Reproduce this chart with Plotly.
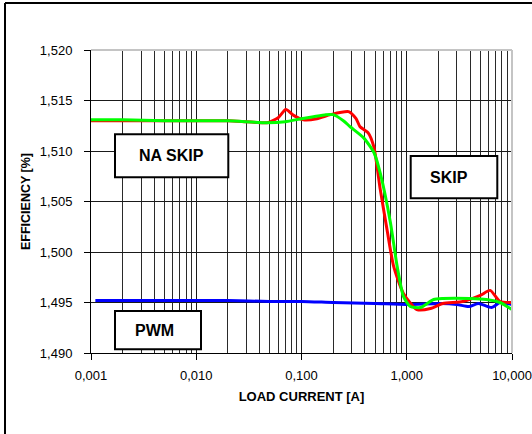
import plotly.graph_objects as go

# ---- data ----
red_x = [0.001, 0.002, 0.005, 0.01, 0.02, 0.03, 0.047, 0.06, 0.071, 0.085, 0.104, 0.14, 0.188, 0.28, 0.33,
         0.36, 0.43, 0.487, 0.56, 0.65, 0.75, 0.93, 1.25, 1.68, 2.2, 3.4, 5.0, 6.2, 7.7, 10]
red_y = [1.5130, 1.5130, 1.5130, 1.5130, 1.5130, 1.5129, 1.5128, 1.5133, 1.5141, 1.5135, 1.5131, 1.5132,
         1.5136, 1.5139, 1.5132, 1.5124, 1.5118, 1.5104, 1.5062, 1.5022, 1.4986, 1.4959, 1.4943, 1.4944,
         1.4949, 1.4951, 1.4957, 1.4962, 1.4951, 1.4950]

green_x = [0.001, 0.002, 0.005, 0.01, 0.02, 0.047, 0.07, 0.1, 0.13, 0.17, 0.2, 0.25, 0.29, 0.39, 0.49,
           0.56, 0.70, 0.81, 0.93, 1.08, 1.35, 1.8, 2.2, 4.0, 5.7, 7.7, 10]
green_y = [1.5131, 1.5131, 1.5130, 1.5130, 1.5130, 1.5128, 1.5129, 1.5132, 1.5134, 1.5136, 1.5136, 1.5130,
           1.5124, 1.5113, 1.5098, 1.5078, 1.5029, 1.4986, 1.4956, 1.4946, 1.4945, 1.4953, 1.4954, 1.4954,
           1.4953, 1.4950, 1.4943]

blue_x = [0.0011, 0.002, 0.005, 0.01, 0.02, 0.05, 0.1, 0.2, 0.5, 1.0, 2.1, 3.0, 3.9, 4.8, 6.4, 7.7, 10]
blue_y = [1.4952, 1.4952, 1.4952, 1.4952, 1.4952, 1.4951, 1.4951, 1.4950, 1.4949, 1.4948, 1.4949, 1.4948,
          1.4946, 1.4949, 1.4945, 1.4950, 1.4948]

x_tickvals = [0.001, 0.01, 0.1, 1, 10]
x_ticktext = ["0,001", "0,010", "0,100", "1,000", "10,000"]
x_minorvals = [m * 10 ** e for e in range(-3, 1) for m in range(2, 10)]
y_tickvals = [1.490, 1.495, 1.500, 1.505, 1.510, 1.515, 1.520]
y_ticktext = ["1,490", "1,495", "1,500", "1,505", "1,510", "1,515", "1,520"]

labels = ["NA SKIP", "SKIP", "PWM"]

FONT = "Liberation Sans, Arial, sans-serif"

# plot-area geometry in pixels
L, R, T, B = 91, 20, 50, 81
W = 532 - L - R
H = 434 - T - B


def px_x(p):
    return (p - L) / W


def px_y(p):
    return (434 - B - p) / H


fig = go.Figure()
fig.add_trace(go.Scatter(x=blue_x, y=blue_y, mode="lines",
                         line=dict(color="#0000ff", width=3, shape="spline", smoothing=0.6)))
fig.add_trace(go.Scatter(x=red_x, y=red_y, mode="lines",
                         line=dict(color="#ff0000", width=3, shape="spline", smoothing=0.6)))
fig.add_trace(go.Scatter(x=green_x, y=green_y, mode="lines",
                         line=dict(color="#00ff00", width=3, shape="spline", smoothing=0.6)))

fig.update_layout(
    template="none",
    width=532, height=434,
    margin=dict(l=L, r=R, t=T, b=B, pad=0),
    paper_bgcolor="white", plot_bgcolor="white",
    showlegend=False,
    font=dict(family=FONT, color="black", size=13),
    xaxis=dict(
        type="log", range=[-3, 1], automargin=False,
        tickvals=x_tickvals, ticktext=x_ticktext,
        showgrid=True, gridcolor="#1a1a1a", gridwidth=1,
        minor=dict(tickvals=x_minorvals, showgrid=True, gridcolor="#2a2a2a", gridwidth=1, ticks=""),
        showline=True, linecolor="black", linewidth=1,
        ticks="outside", ticklen=6, tickcolor="black",
        tickfont=dict(size=13), zeroline=False,
        ticklabelstandoff=4,
        title=dict(text="<b>LOAD CURRENT [A]</b>", font=dict(size=13), standoff=10),
    ),
    yaxis=dict(
        range=[1.490, 1.520], automargin=False,
        tickvals=y_tickvals, ticktext=y_ticktext,
        showgrid=True, gridcolor="#1a1a1a", gridwidth=1,
        showline=True, linecolor="black", linewidth=1,
        ticks="outside", ticklen=6, tickcolor="black",
        tickfont=dict(size=13), zeroline=False,
        ticklabelstandoff=9,
        title=dict(text="<b>EFFICIENCY [%]</b>", font=dict(size=12.5), standoff=6),
    ),
)

shapes = []
# plot top and right light-gray borders
shapes.append(dict(type="line", xref="paper", yref="paper", x0=0, x1=1, y0=1, y1=1,
                   line=dict(color="#c4c4c4", width=2)))
shapes.append(dict(type="line", xref="paper", yref="paper", x0=1, x1=1, y0=0, y1=1,
                   line=dict(color="#c4c4c4", width=2)))
# outer chart frame (left and top edges)
shapes.append(dict(type="line", xref="paper", yref="paper", x0=px_x(5), x1=px_x(540), y0=px_y(3), y1=px_y(3),
                   line=dict(color="black", width=2)))
shapes.append(dict(type="line", xref="paper", yref="paper", x0=px_x(5), x1=px_x(5), y0=px_y(440), y1=px_y(3),
                   line=dict(color="black", width=2)))

boxes_px = [
    (115, 228.3, 134.3, 177.3),
    (410.7, 497.3, 156, 198.3),
    (115, 201, 311, 349.3),
]
text_px = [(171.7, 155.5), (449, 177), (154, 330)]

for (x0, x1, y0, y1) in boxes_px:
    shapes.append(dict(type="rect", xref="paper", yref="paper",
                       x0=px_x(x0), x1=px_x(x1), y0=px_y(y1), y1=px_y(y0),
                       fillcolor="white", line=dict(color="black", width=2), layer="above"))
fig.update_layout(shapes=shapes)

for lab, (tx, ty) in zip(labels, text_px):
    fig.add_annotation(x=px_x(tx), y=px_y(ty), xref="paper", yref="paper", text="<b>" + lab + "</b>",
                       showarrow=False, font=dict(size=16, family=FONT, color="black"),
                       xanchor="center", yanchor="middle")

fig.write_html("out.html", config={"displayModeBar": False},
               post_script="document.body.style.margin='0';document.body.style.overflow='hidden';")
